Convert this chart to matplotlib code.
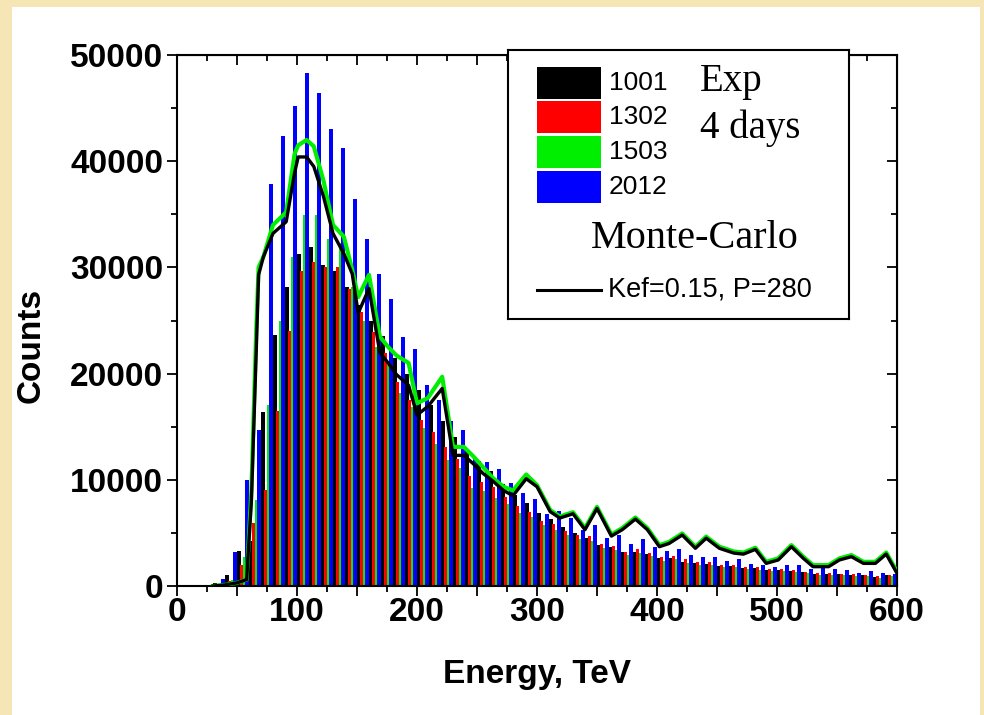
import numpy as np
import matplotlib
matplotlib.use("Agg")
import matplotlib.pyplot as plt
from matplotlib.patches import Rectangle
from matplotlib.ticker import MultipleLocator

# energy bins, 10 TeV wide (bin centres)
centers = np.arange(35, 600, 10)

cnt_1001 = [250, 1040, 3300, 4200, 16400, 23600, 28200, 31300, 31900, 30200,
            29700, 28200, 26500, 25000, 23500, 21500, 20000, 18500, 17000, 15500,
            14000, 12800, 11800, 10800, 9600, 8600, 7800, 6900, 6300, 5600,
            5000, 4500, 3900, 3700, 3200, 3200, 3000, 2600, 2600, 2300,
            2200, 2100, 1900, 1900, 1700, 1700, 1500, 1500, 1400, 1300,
            1150, 1150, 1100, 1050, 1000, 850, 1000]
cnt_1302 = [100, 500, 2000, 5900, 9000, 16500, 24000, 29700, 30500, 30000,
            30000, 28000, 25800, 23900, 21900, 19200, 17500, 15600, 14500, 13100,
            12000, 10400, 9800, 9300, 8400, 7500, 7000, 6100, 5800, 5200,
            4800, 4700, 4000, 3800, 3200, 3450, 3100, 2700, 2800, 2500,
            2300, 2300, 2000, 2000, 1800, 1750, 1600, 1600, 1500, 1350,
            1200, 1200, 1130, 1100, 1040, 900, 1040]
cnt_1503 = [150, 600, 2760, 8100, 17000, 25000, 31000, 34900, 34900, 32700,
            32300, 28200, 25000, 22500, 20800, 18200, 16900, 14900, 13400, 11900,
            11100, 9200, 8900, 8300, 7700, 6900, 6500, 5700, 5300, 4800,
            4400, 4200, 3600, 3400, 2900, 3100, 2800, 2400, 2500, 2200,
            2000, 2000, 1750, 1750, 1600, 1550, 1400, 1400, 1300, 1200,
            1050, 1050, 1000, 950, 900, 800, 900]
cnt_2012 = [700, 3200, 10000, 14700, 37900, 42400, 45200, 48300, 46400, 43000,
            41200, 36400, 32700, 29400, 27000, 23400, 22300, 18900, 17500, 15500,
            14700, 12000, 11700, 11000, 9700, 8800, 8200, 6800, 7100, 6400,
            5300, 5700, 4500, 4800, 4000, 4400, 3700, 3300, 3450, 2900,
            2750, 2700, 2400, 2500, 2100, 2000, 1800, 2000, 2000, 1600,
            1650, 1600, 1500, 1250, 1450, 1200, 1150]

# Monte-Carlo curves
mc_e = [30, 40, 50, 58, 62, 66, 68, 72, 80, 91, 98, 101, 108, 114, 122, 130, 139,
        146, 151, 160, 169, 176, 183, 193, 200, 209, 221, 230, 239, 247, 255, 263,
        272, 280, 291, 300, 311, 319, 330, 340, 350, 362, 371, 382, 392, 402, 410,
        421, 432, 441, 452, 464, 472, 482, 491, 501, 512, 522, 530, 543, 552, 562,
        572, 582, 591, 600]
mc_black = [0, 100, 300, 600, 8000, 22000, 29300, 31000, 33200, 34300, 38900, 40400,
            40400, 39500, 36700, 33200, 31300, 29400, 25700, 28000, 22000, 21000,
            19900, 18900, 16100, 16900, 18600, 12300, 12300, 11500, 10600, 9900,
            9000, 8500, 10100, 9350, 7000, 6400, 6800, 5300, 7300, 4700, 5300, 6300,
            5300, 3700, 4000, 4800, 3550, 4500, 3550, 3100, 3000, 3450, 2130, 2450,
            3700, 2600, 1820, 1820, 2450, 2760, 2130, 2130, 3000, 1200]
mc_green = [0, 100, 300, 600, 9000, 24000, 30000, 31000, 34000, 35200, 40700, 41500,
            42000, 41400, 38200, 34000, 32900, 29800, 27200, 29300, 23500, 22500,
            21700, 21000, 17200, 17700, 19700, 13100, 13100, 12200, 11200, 10200,
            9350, 9000, 10500, 9500, 7150, 6550, 6950, 5450, 7450, 4850, 5450, 6450,
            5450, 3850, 4150, 4950, 3700, 4650, 3700, 3250, 3150, 3600, 2280, 2600,
            3850, 2750, 1970, 1970, 2600, 2910, 2280, 2280, 3150, 1350]

series = [("1001", cnt_1001, "#000000"), ("1302", cnt_1302, "#ff0000"),
          ("1503", cnt_1503, "#00ee00"), ("2012", cnt_2012, "#0000ff")]

W, H = 984, 715
fig = plt.figure(figsize=(W / 100, H / 100), dpi=100, facecolor="#f7e6b5")
fig.add_artist(Rectangle((12 / W, 0), (980 - 12) / W, (H - 7) / H,
                         transform=fig.transFigure, facecolor="white",
                         edgecolor="none", zorder=0))

ax = fig.add_axes([177 / W, 1 - 586 / H, 720 / W, 531 / H])
ax.set_facecolor("white")

# bar start offset and width inside each 10 TeV bin (black sits behind, wider)
offs = [-5.0, -2.3, 0.0, 2.0]
widths = [3.6, 2.4, 2.2, 3.0]
for (name, vals, col), o, w in zip(series, offs, widths):
    ax.bar(centers + o, vals, width=w, align="edge", color=col,
           linewidth=0, zorder=2, antialiased=False)

ax.plot(mc_e, mc_green, color="#00ee00", lw=3.0, zorder=3)
ax.plot(mc_e, mc_black, color="black", lw=2.4, zorder=4)

ax.set_xlim(0, 600)
ax.set_ylim(0, 50000)

tick_font = dict(family="Liberation Sans", weight="bold", size=24)
ax.set_xticks(np.arange(0, 601, 50))
ax.set_xticklabels([str(v) if v % 100 == 0 else "" for v in range(0, 601, 50)],
                   **tick_font)
ax.xaxis.set_minor_locator(MultipleLocator(25))
ax.set_yticks(np.arange(0, 50001, 10000))
ax.set_yticklabels([str(v) for v in range(0, 50001, 10000)], **tick_font)
ax.yaxis.set_minor_locator(MultipleLocator(5000))
ax.tick_params(which="major", direction="out", length=7, width=1.3)
ax.tick_params(which="minor", direction="out", length=4, width=1.3)
ax.tick_params(axis="x", pad=1)
ax.tick_params(axis="y", pad=3)
for s in ax.spines.values():
    s.set_linewidth(1.5)

top = ax.secondary_xaxis("top")
top.set_xticks(np.arange(0, 601, 50))
top.xaxis.set_minor_locator(MultipleLocator(25))
top.tick_params(which="major", direction="in", length=7, width=1.3, labeltop=False)
top.tick_params(which="minor", direction="in", length=4, width=1.3)
right = ax.secondary_yaxis("right")
right.set_yticks(np.arange(0, 50001, 10000))
right.yaxis.set_minor_locator(MultipleLocator(5000))
right.tick_params(which="major", direction="in", length=7, width=1.3, labelright=False)
right.tick_params(which="minor", direction="in", length=4, width=1.3)

fig.text(31 / W, 1 - 345 / H, "Counts", rotation=90, ha="center", va="center",
         **tick_font)
fig.text(537 / W, 1 - 675 / H, "Energy, TeV", ha="center", va="center",
         **tick_font)

# legend box, laid out in pixel units
lx0, lx1, ly0, ly1 = 508, 849, 50, 319
lax = fig.add_axes([lx0 / W, 1 - ly1 / H, (lx1 - lx0) / W, (ly1 - ly0) / H])
lax.set_xlim(lx0, lx1)
lax.set_ylim(ly1, ly0)
lax.set_xticks([])
lax.set_yticks([])
lax.set_facecolor("white")
for s in lax.spines.values():
    s.set_linewidth(1.5)

box_y = [67, 101, 136, 171]
for (name, vals, col), y in zip(series, box_y):
    lax.add_patch(Rectangle((537, y), 64, 32, facecolor=col, edgecolor="none"))
    lax.text(609, y + 16, name, family="Liberation Sans", size=19,
             ha="left", va="center")
lax.text(700, 82, "Exp", family="Liberation Serif", size=28, ha="left", va="center")
lax.text(700, 128, "4 days", family="Liberation Serif", size=28, ha="left",
         va="center")
lax.text(591, 238, "Monte-Carlo", family="Liberation Serif", size=29, ha="left",
         va="center")
lax.plot([537, 601], [290, 290], color="black", lw=2.2)
lax.text(608, 289, "Kef=0.15, P=280", family="Liberation Sans", size=19.5,
         ha="left", va="center")

fig.savefig("out.png", dpi=100, facecolor=fig.get_facecolor())
